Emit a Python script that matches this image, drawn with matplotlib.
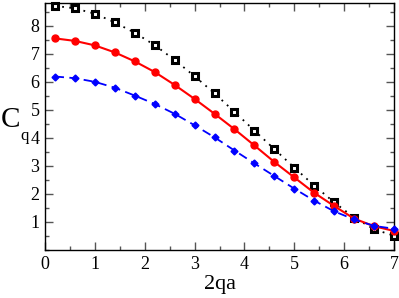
import numpy as np
import matplotlib.pyplot as plt
from matplotlib.ticker import MultipleLocator

# valores
x = [0.2, 0.6, 1.0, 1.4, 1.8, 2.2, 2.6, 3.0, 3.4, 3.8, 4.2, 4.6, 5.0, 5.4, 5.8, 6.2, 6.6, 7.0]
c_negro = [8.71, 8.62, 8.43, 8.12, 7.75, 7.31, 6.78, 6.20, 5.59, 4.93, 4.26, 3.60, 2.94, 2.30, 1.70, 1.16, 0.74, 0.51]
c_rojo = [7.55, 7.46, 7.30, 7.05, 6.73, 6.35, 5.89, 5.39, 4.86, 4.31, 3.73, 3.14, 2.59, 2.04, 1.57, 1.12, 0.85, 0.68]
c_azul = [6.19, 6.13, 6.00, 5.79, 5.51, 5.21, 4.86, 4.45, 4.02, 3.55, 3.09, 2.64, 2.19, 1.76, 1.38, 1.09, 0.86, 0.76]

plt.rcParams['font.family'] = 'serif'
plt.rcParams['font.serif'] = ['Liberation Serif', 'DejaVu Serif']

fig = plt.figure(figsize=(3.99, 2.98), dpi=100)
ax = fig.add_axes([0.1128, 0.161, 0.8747, 0.8306])

ax.plot(x, c_negro, color='black', linestyle=(0, (1, 3)), linewidth=1.3,
        marker='s', markersize=4.5, markerfacecolor='white', markeredgecolor='black',
        markeredgewidth=2.2, clip_on=False, zorder=3)
ax.plot(x, c_rojo, color='red', linestyle='-', linewidth=1.5,
        marker='o', markersize=5, markerfacecolor='red', markeredgecolor='red',
        clip_on=False, zorder=3)
ax.plot(x, c_azul, color='blue', linestyle=(0, (5, 3)), linewidth=1.3,
        marker='D', markersize=3.5, markerfacecolor='blue', markeredgecolor='blue',
        clip_on=False, zorder=3)

ax.set_xlim(0, 7)
ax.set_ylim(0, 8.83)
ax.xaxis.set_major_locator(MultipleLocator(1))
ax.xaxis.set_minor_locator(MultipleLocator(0.5))
ax.set_yticks([1, 2, 3, 4, 5, 6, 7, 8])
ax.yaxis.set_minor_locator(MultipleLocator(0.5))
ax.tick_params(which='both', direction='in', top=True, right=True, color='#555555')
ax.tick_params(which='major', length=6, width=1, labelsize=13, pad=4)
ax.tick_params(which='minor', length=3, width=1)
for s in ax.spines.values():
    s.set_linewidth(1.0)

ax.set_xlabel('2qa', fontsize=16, labelpad=2)
# etiqueta C con subindice q
fig.text(0.003, 0.597, 'C', fontsize=21, ha='left', va='center')
fig.text(0.052, 0.545, 'q', fontsize=12, ha='left', va='center')

plt.savefig('out.png', dpi=100)
